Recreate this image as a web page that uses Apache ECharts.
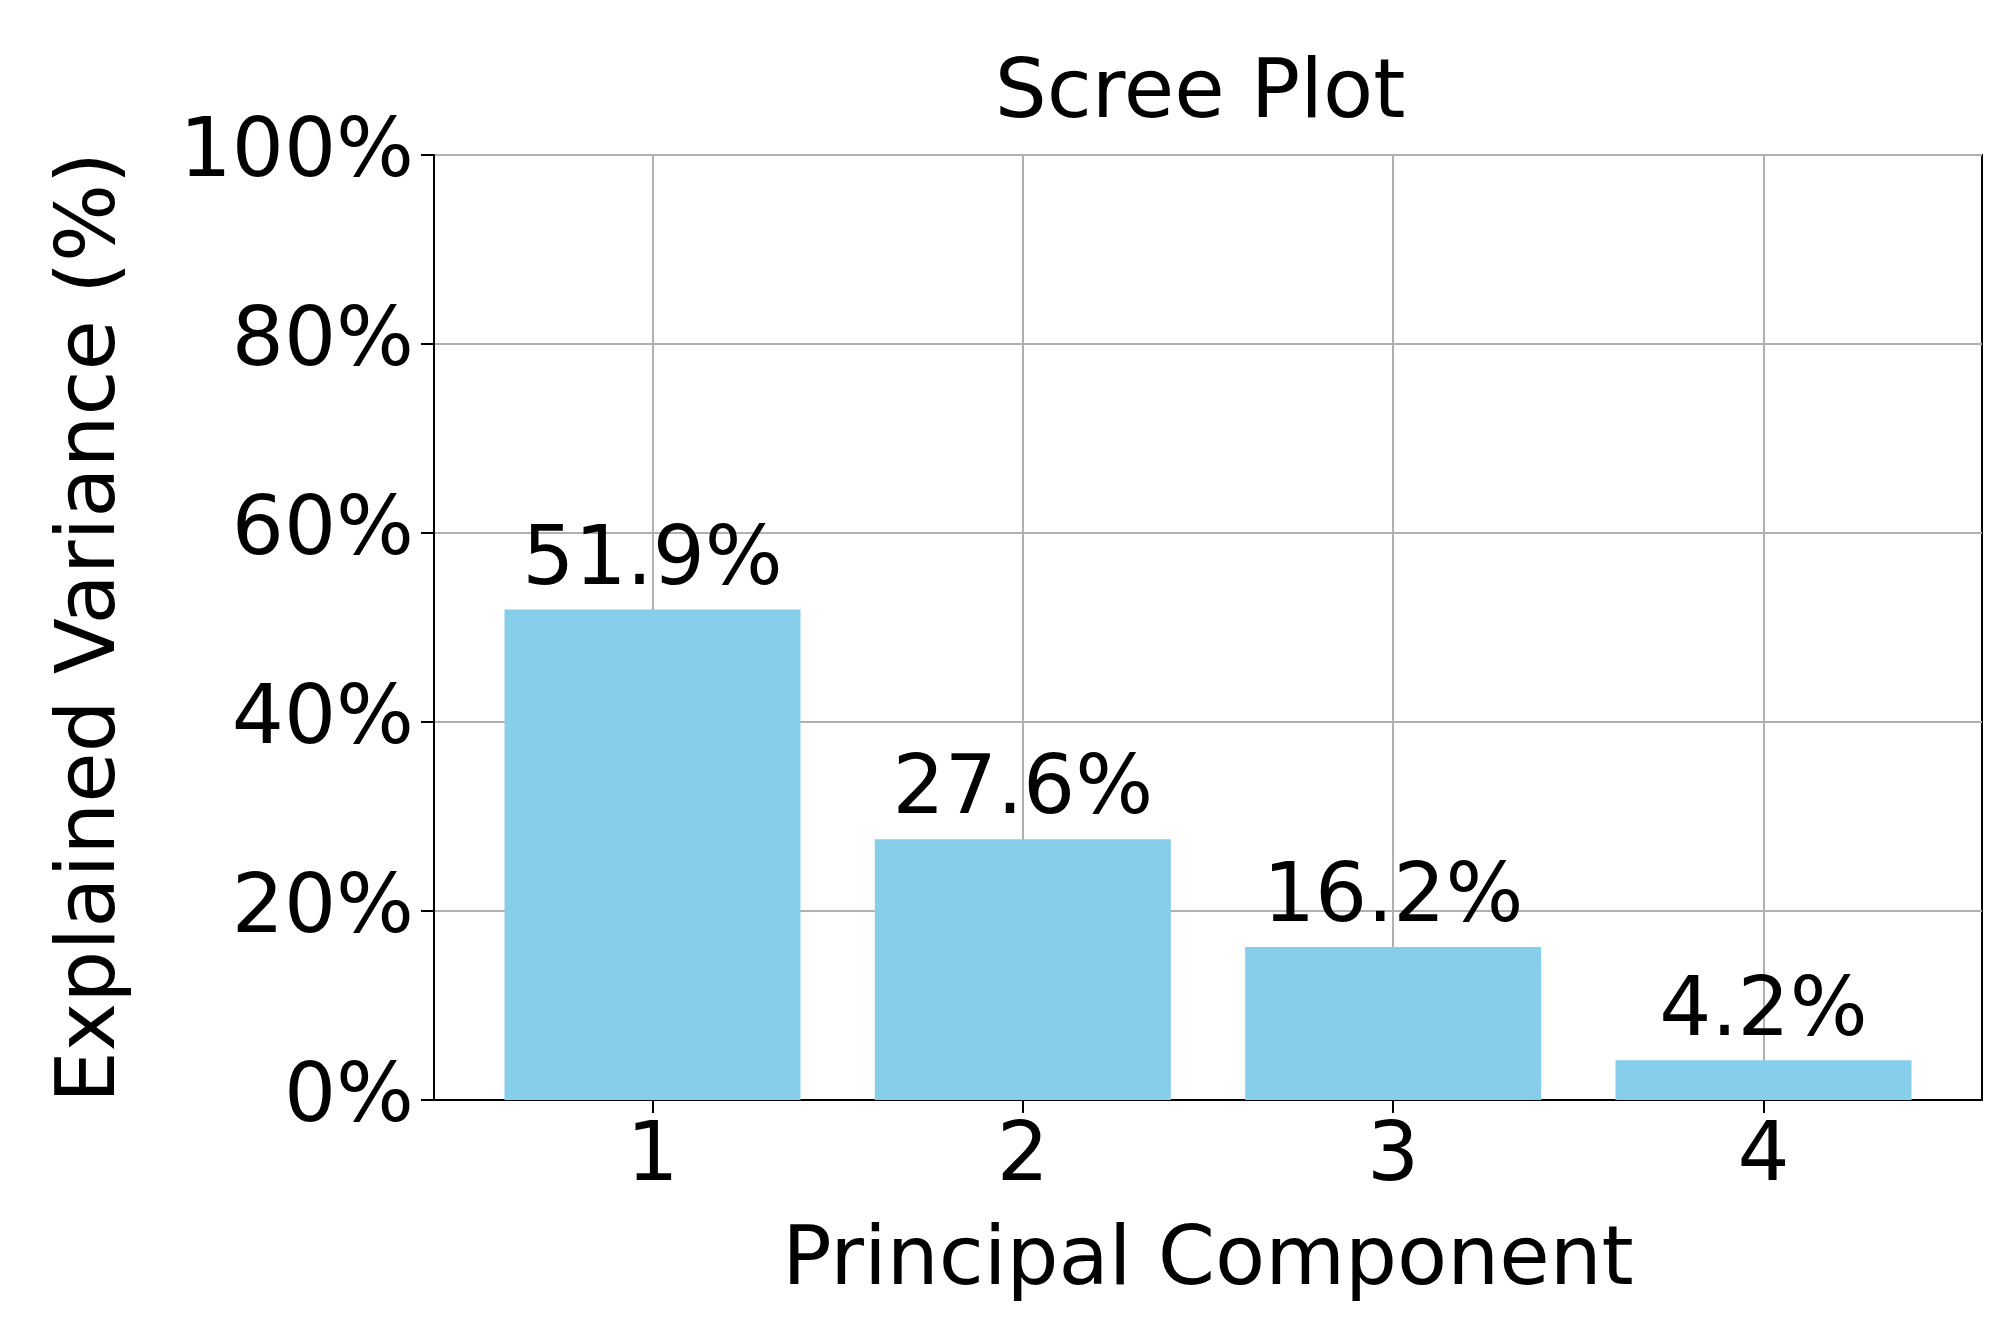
<!DOCTYPE html>
<html lang="en">
<head>
    <meta charset="UTF-8">
    <title>scree</title>
    <script src="https://cdn.jsdelivr.net/npm/echarts@6/dist/echarts.min.js"></script>
</head>
<body style="margin:0">
<div id="chart" style="width:2002px;height:1342px"></div>
<script>
    var components = [1, 2, 3, 4];
    var variance = [51.9, 27.6, 16.2, 4.2];
    var yTicks = [0, 20, 40, 60, 80, 100];

    var font = 'DejaVu Sans';
    var fs = 82;
    var data = [];
    for (var i = 0; i < components.length; i++) {
        data.push([components[i], variance[i]]);
    }
    var chart = echarts.init(document.getElementById('chart'));
    chart.setOption({
        animation: false,
        title: {
            text: 'Scree Plot', left: 1195, top: 50, textAlign: 'center',
            textStyle: {fontFamily: font, fontSize: fs, fontWeight: 'normal', color: '#000'}
        },
        grid: {left: 434, right: 20, top: 155, bottom: 242, show: true, borderColor: '#000', borderWidth: 2},
        xAxis: {
            type: 'value', min: 0.41, max: 4.59,
            name: 'Principal Component', nameLocation: 'middle', nameGap: 122,
            nameTextStyle: {fontFamily: font, fontSize: fs, color: '#000'},
            axisLine: {show: true, lineStyle: {color: '#000', width: 2}},
            axisTick: {show: true, length: 13, customValues: components, lineStyle: {color: '#000', width: 2}},
            axisLabel: {customValues: components, fontFamily: font, fontSize: fs, color: '#000', margin: 18},
            splitLine: {show: true, lineStyle: {color: '#b0b0b0', width: 2}}
        },
        yAxis: {
            type: 'value', min: 0, max: 100, interval: 20,
            name: 'Explained Variance (%)', nameLocation: 'middle', nameRotate: 90, nameGap: 300,
            nameTextStyle: {fontFamily: font, fontSize: fs, color: '#000'},
            axisLine: {show: true, lineStyle: {color: '#000', width: 2}},
            axisTick: {show: true, length: 13, lineStyle: {color: '#000', width: 2}},
            axisLabel: {formatter: '{value}%', fontFamily: font, fontSize: fs, color: '#000', margin: 20},
            splitLine: {show: true, lineStyle: {color: '#b0b0b0', width: 2}}
        },
        series: [{
            type: 'bar', data: data, barWidth: 296, z: 1,
            itemStyle: {color: '#87CEEB'},
            label: {
                show: true, position: 'top', distance: 6,
                formatter: function (p) { return p.value[1].toFixed(1) + '%'; },
                fontFamily: font, fontSize: fs, color: '#000'
            }
        }]
    });
</script>
</body>
</html>
